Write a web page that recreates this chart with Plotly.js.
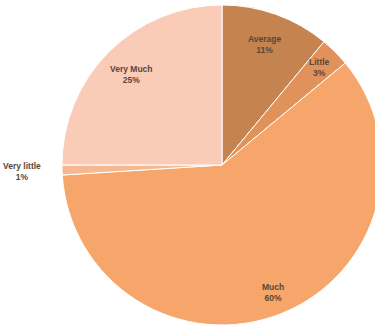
<!DOCTYPE html>
<html><head><meta charset="utf-8">
<script src="https://cdn.plot.ly/plotly-3.0.1.min.js"></script>
<style>html,body{margin:0;padding:0;overflow:hidden;background:#fff;width:375px;height:329px}</style>
</head><body><div id="chart"></div>
<script>
const labels = ["Average", "Little", "Much", "Very little", "Very Much"];
const values = [11, 3, 60, 1, 25];
const colors = ["#C4834F", "#E0925A", "#F6A66A", "#F5B890", "#FACBB7"];
// radial placement of each label, as a fraction of the pie radius
const labelRadius = [0.8, 0.86, 0.86, 1.25, 0.8];

const total = values.reduce((a, b) => a + b, 0);
const annotations = [];
let cum = 0;
values.forEach((v, i) => {
  const mid = (cum + v / 2) / total * 2 * Math.PI;
  cum += v;
  const r = 0.5 * labelRadius[i];
  annotations.push({
    xref: "paper", yref: "paper",
    x: 0.5 + r * Math.sin(mid),
    y: 0.5 + r * Math.cos(mid),
    xanchor: "center", yanchor: "middle",
    showarrow: false,
    text: "<b>" + labels[i] + "</b><br><b>" + Math.round(v / total * 100) + "%</b>",
    font: {family: "Liberation Sans, Arial, sans-serif", size: 8.5, color: "#5a4636"}
  });
});

Plotly.newPlot("chart", [{
  type: "pie",
  labels: labels,
  values: values,
  sort: false,
  direction: "clockwise",
  rotation: 0,
  marker: {colors: colors, line: {color: "#ffffff", width: 1}},
  textinfo: "none",
  hoverinfo: "none",
  showlegend: false
}], {
  width: 390, height: 329,
  margin: {l: 62, r: 8, t: 5, b: 4},
  paper_bgcolor: "#ffffff",
  showlegend: false,
  annotations: annotations
}, {displayModeBar: false, staticPlot: true});
</script></body></html>
